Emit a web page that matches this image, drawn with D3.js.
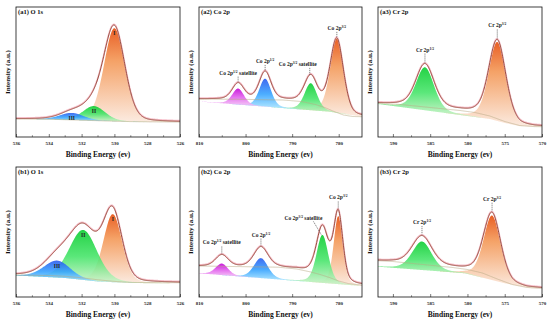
<!DOCTYPE html>
<html><head><meta charset="utf-8">
<script src="https://cdn.jsdelivr.net/npm/d3@7"></script>
<style>body{margin:0;background:#fff}svg{display:block}</style>
</head><body>
<svg id="c" width="550" height="323"></svg>
<script>
// ---------------- data ----------------
const panelIds = ["a1","a2","a3","b1","b2","b3"];
const panelTitles = ["(a1) O 1s","(a2) Co 2p","(a3) Cr 2p","(b1) O 1s","(b2) Co 2p","(b3) Cr 2p"];
const xTitle = "Binding Energy (ev)";
const yTitle = "Intensity (a.u.)";

const oDomain = [536, 526];  const oTicks = [536,534,532,530,528,526];  const oMinor = [535,533,531,529,527];
const coDomain = [810, 775]; const coTicks = [810,800,790,780];          const coMinor = [805,795,785];
const crDomain = [592, 570]; const crTicks = [590,585,580,575,570];      const crMinor = [587.5,582.5,577.5,572.5];

// fitted components: [centre (eV), height (a.u.), FWHM (eV)]
const a1Peaks = [[530.0, 93, 1.5], [531.25, 14.5, 1.6], [532.6, 7, 1.7]];
const a2Peaks = [[780.4, 74, 3.4], [786.0, 27, 3.2], [795.8, 28, 3.0], [801.6, 16, 3.0]];
const a3Peaks = [[576.0, 79, 2.7], [585.7, 43, 2.9]];
const b1Peaks = [[530.1, 68, 1.35], [531.9, 50, 2.0], [533.5, 17, 1.9]];
const b2Peaks = [[780.1, 68, 2.3], [783.5, 48, 3.0], [796.7, 20, 3.6], [805.1, 11.5, 3.2]];
const b3Peaks = [[576.7, 64.5, 2.7], [586.1, 28.5, 3.1]];

// Shirley-type backgrounds [eV, a.u.]
const a1Bg = [[536,18],[534,17.8],[533,17.3],[532,16.8],[531,16.3],[530,15.8],[529,15.4],[528,15.2],[526,15]];
const a2Bg = [[810,38],[800,37.6],[792,37],[788,35.5],[785,32.5],[783,29.5],[781,25.5],[779,22],[777,20.5],[775,20.3]];
const a3Bg = [[592,33.7],[589,32.5],[587,31],[585,29.5],[583,28],[581,26.5],[579,24.5],[577,21],[575,15.5],[573,11.5],[571,10.4],[570,10.3]];
const b1Bg = [[536,22],[534,21.5],[533,20.7],[532,19.2],[531,17.2],[530,15.6],[529,14.6],[528,14.4],[526,14.3]];
const b2Bg = [[810,31],[800,30.3],[793,29.8],[789,28],[786,25],[784,22.5],[782,19.5],[780,16],[778,13.5],[776,12.3],[775,12]];
const b3Bg = [[592,36.3],[590,35.5],[588,34],[586,32.5],[584,31],[582,29.5],[580,27.5],[578,24],[576,18],[574,12.5],[572,9.5],[570,8.7]];

// base lines the component fills rise from [eV, a.u.]
const a1Base = a1Bg;
const a2Base = [[810,35.5],[782,25.3],[775,20.3]];
const a3Base = [[592,33],[581,22],[577,18],[575,14],[573,10.8],[570,10.3]];
const b1Base = [[536,21.5],[533,19],[531,15.5],[529,14],[526,13.5]];
const b2Base = [[810,23.7],[775,11]];
const b3Base = [[592,30.3],[580.3,23.7],[575,13.7],[571.4,8.7],[570,8.7]];

// component labels: [main, superscript, suffix]
const oLabels = [["I","",""],["II","",""],["III","",""]];
const coLabels = [["Co 2p","3/2",""],["Co 2p","3/2"," satellite"],["Co 2p","1/2",""],["Co 2p","1/2"," satellite"]];
const crLabels = [["Cr 2p","3/2",""],["Cr 2p","1/2",""]];

// ---------------- style / layout ----------------
const FONT = "'Liberation Serif','Times New Roman',serif";
const cols = [[16,180],[199,362],[378,542]];
const rows = [[7,137],[167,297]];
const palette = {
  orange:[["0","#e64a08"],["0.35","#f39552"],["1","#fbe8dc"]],
  green:[["0","#06cc2c"],["0.5","#44e468"],["1","#d0f3cc"]],
  blue:[["0","#2656ee"],["0.5","#33a2ff"],["1","#b0e9ff"]],
  magenta:[["0","#c400d6"],["0.5","#e468ee"],["1","#f6d4f6"]]
};
const panels = [
  {dom:oDomain,ticks:oTicks,minor:oMinor,peaks:a1Peaks,bg:a1Bg,base:a1Base,eta:0.2,colors:["orange","green","blue"],labels:oLabels,kind:"o"},
  {dom:coDomain,ticks:coTicks,minor:coMinor,peaks:a2Peaks,bg:a2Bg,base:a2Base,eta:0.3,colors:["orange","green","blue","magenta"],labels:coLabels,kind:"t",gap:8,special:{1:{dx:-13,dy:0,lx:12,ly:0.5}}},
  {dom:crDomain,ticks:crTicks,minor:crMinor,peaks:a3Peaks,bg:a3Bg,base:a3Base,eta:0.3,colors:["orange","green"],labels:crLabels,kind:"t",gap:12},
  {dom:oDomain,ticks:oTicks,minor:oMinor,peaks:b1Peaks,bg:b1Bg,base:b1Base,eta:0.2,colors:["orange","green","blue"],labels:oLabels,kind:"o"},
  {dom:coDomain,ticks:coTicks,minor:coMinor,peaks:b2Peaks,bg:b2Bg,base:b2Base,eta:0.3,colors:["orange","green","blue","magenta"],labels:coLabels,kind:"t",gap:10,special:{1:{dx:-19,dy:5,lx:10,ly:10}}},
  {dom:crDomain,ticks:crTicks,minor:crMinor,peaks:b3Peaks,bg:b3Bg,base:b3Base,eta:0.3,colors:["orange","green"],labels:crLabels,kind:"t",gap:11.5}
];

const svg = d3.select("#c");
const defs = svg.append("defs");
Object.entries(palette).forEach(([k,stops])=>{
  const g = defs.append("linearGradient").attr("id","g-"+k).attr("x1",0).attr("y1",0).attr("x2",0).attr("y2",1);
  stops.forEach(s=>g.append("stop").attr("offset",s[0]).attr("stop-color",s[1]));
});

function pv(x, p, eta){ const d=(x-p[0])/p[2]; return p[1]*((1-eta)*Math.exp(-4*Math.LN2*d*d)+eta/(1+4*d*d)); }
function interp(pts){ return d3.scaleLinear().domain(pts.map(p=>p[0])).range(pts.map(p=>p[1])).clamp(true); }

panels.forEach((P,i)=>{
  const [x0,x1] = cols[i%3], [y0,y1] = rows[Math.floor(i/3)];
  const x = d3.scaleLinear().domain(P.dom).range([x0,x1]);
  const y = d3.scaleLinear().domain([0,130]).range([y1,y0]);
  const bg = interp(P.bg), base = interp(P.base);
  const g = svg.append("g");
  const clipId = "clip-"+panelIds[i];
  defs.append("clipPath").attr("id",clipId).append("rect").attr("x",x0).attr("y",y0).attr("width",x1-x0).attr("height",y1-y0);
  const plot = g.append("g").attr("clip-path",`url(#${clipId})`);

  const N = 500;
  const grid = d3.range(N+1).map(k=>P.dom[0]+(P.dom[1]-P.dom[0])*k/N);
  const env = grid.map(e=>[e, bg(e)+d3.sum(P.peaks,p=>pv(e,p,P.eta))]);

  // component fills
  const area = d3.area().x(d=>x(d[0])).y0(d=>y(d[1])).y1(d=>y(d[2]));
  P.peaks.forEach((p,j)=>{
    const lo = Math.max(Math.min(...P.dom), p[0]-2.6*p[2]);
    const hi = Math.min(Math.max(...P.dom), p[0]+2.6*p[2]);
    const pts = grid.filter(e=>e>=lo && e<=hi).map(e=>[e, base(e), base(e)+pv(e,p,P.eta)]);
    plot.append("path").datum(pts).attr("d",area)
      .attr("fill",`url(#g-${P.colors[j]})`).attr("fill-opacity",0.88);
  });
  // background
  plot.append("path").datum(grid.map(e=>[e,bg(e)]))
    .attr("d",d3.line().x(d=>x(d[0])).y(d=>y(d[1])))
    .attr("fill","none").attr("stroke","#b8aa84").attr("stroke-width",0.6);
  // raw (pink) + envelope (brown)
  const line = d3.line().x(d=>x(d[0])).y(d=>y(d[1])).curve(d3.curveMonotoneX);
  plot.append("path").datum(env).attr("d",line).attr("fill","none").attr("stroke","#f3a9b8").attr("stroke-width",1.7).attr("opacity",0.75)
    .attr("transform","translate(0,-0.6)");
  plot.append("path").datum(env).attr("d",line).attr("fill","none").attr("stroke","#98503f").attr("stroke-width",1);

  // labels
  P.peaks.forEach((p,j)=>{
    const L = P.labels[j];
    const px = x(p[0]);
    if (P.kind==="o"){
      const top = y(base(p[0])+p[1]);
      g.append("text").attr("x",px).attr("y",top+7).attr("text-anchor","middle")
        .attr("font-family",FONT).attr("font-weight","bold").attr("font-size",5.5).attr("fill","#222").text(L[0]);
    } else {
      const envTop = y(bg(p[0])+d3.sum(P.peaks,q=>pv(p[0],q,P.eta)));
      const sp = (P.special && P.special[j]) || null;
      const tx = px + (sp?sp.dx:0), ty = envTop - P.gap + (sp?sp.dy:0);
      const t = g.append("text").attr("x",tx).attr("y",ty).attr("text-anchor","middle")
        .attr("font-family",FONT).attr("font-weight","bold").attr("font-size",5.5).attr("fill","#222");
      t.append("tspan").text(L[0]);
      t.append("tspan").attr("dy",-2).attr("font-size",3.6).text(L[1]);
      t.append("tspan").attr("dy",2).text(L[2]);
      const ls = sp ? [tx+sp.lx, ty+1.5, px-1, envTop+sp.ly] : [px, ty+2, px, envTop-1];
      g.append("line").attr("x1",ls[0]).attr("y1",ls[1]).attr("x2",ls[2]).attr("y2",ls[3])
        .attr("stroke","#333").attr("stroke-width",0.6).attr("stroke-dasharray","1.2,0.8");
    }
  });

  // axis
  const ax = g.append("g").attr("transform",`translate(0,${y1})`)
    .call(d3.axisBottom(x).tickValues(P.ticks).tickSizeInner(-3).tickSizeOuter(0).tickPadding(4).tickFormat(d3.format("d")));
  ax.select(".domain").remove();
  ax.selectAll(".tick line").attr("stroke","#222").attr("stroke-width",0.6);
  ax.selectAll(".tick text").attr("font-family",FONT).attr("font-weight","bold").attr("font-size",5).attr("fill","#222");
  g.selectAll(".minor").data(P.minor).enter().append("line")
    .attr("x1",d=>x(d)).attr("x2",d=>x(d)).attr("y1",y1).attr("y2",y1-1.8)
    .attr("stroke","#222").attr("stroke-width",0.5);

  // frame
  g.append("rect").attr("x",x0).attr("y",y0).attr("width",x1-x0).attr("height",y1-y0)
    .attr("fill","none").attr("stroke","#111").attr("stroke-width",0.8);
  // title
  g.append("text").attr("x",x0+2).attr("y",y0+6.8).attr("font-family",FONT).attr("font-weight","bold")
    .attr("font-size",6.5).attr("fill","#111").text(panelTitles[i]);
  // axis titles
  g.append("text").attr("x",(x0+x1)/2).attr("y",y1+19.5).attr("text-anchor","middle")
    .attr("font-family",FONT).attr("font-weight","bold").attr("font-size",7.5).attr("fill","#111").text(xTitle);
  g.append("text").attr("transform",`translate(${x0-6.5},${(y0+y1)/2}) rotate(-90)`).attr("text-anchor","middle")
    .attr("font-family",FONT).attr("font-weight","bold").attr("font-size",7).attr("fill","#111").text(yTitle);
});
</script>
</body></html>
